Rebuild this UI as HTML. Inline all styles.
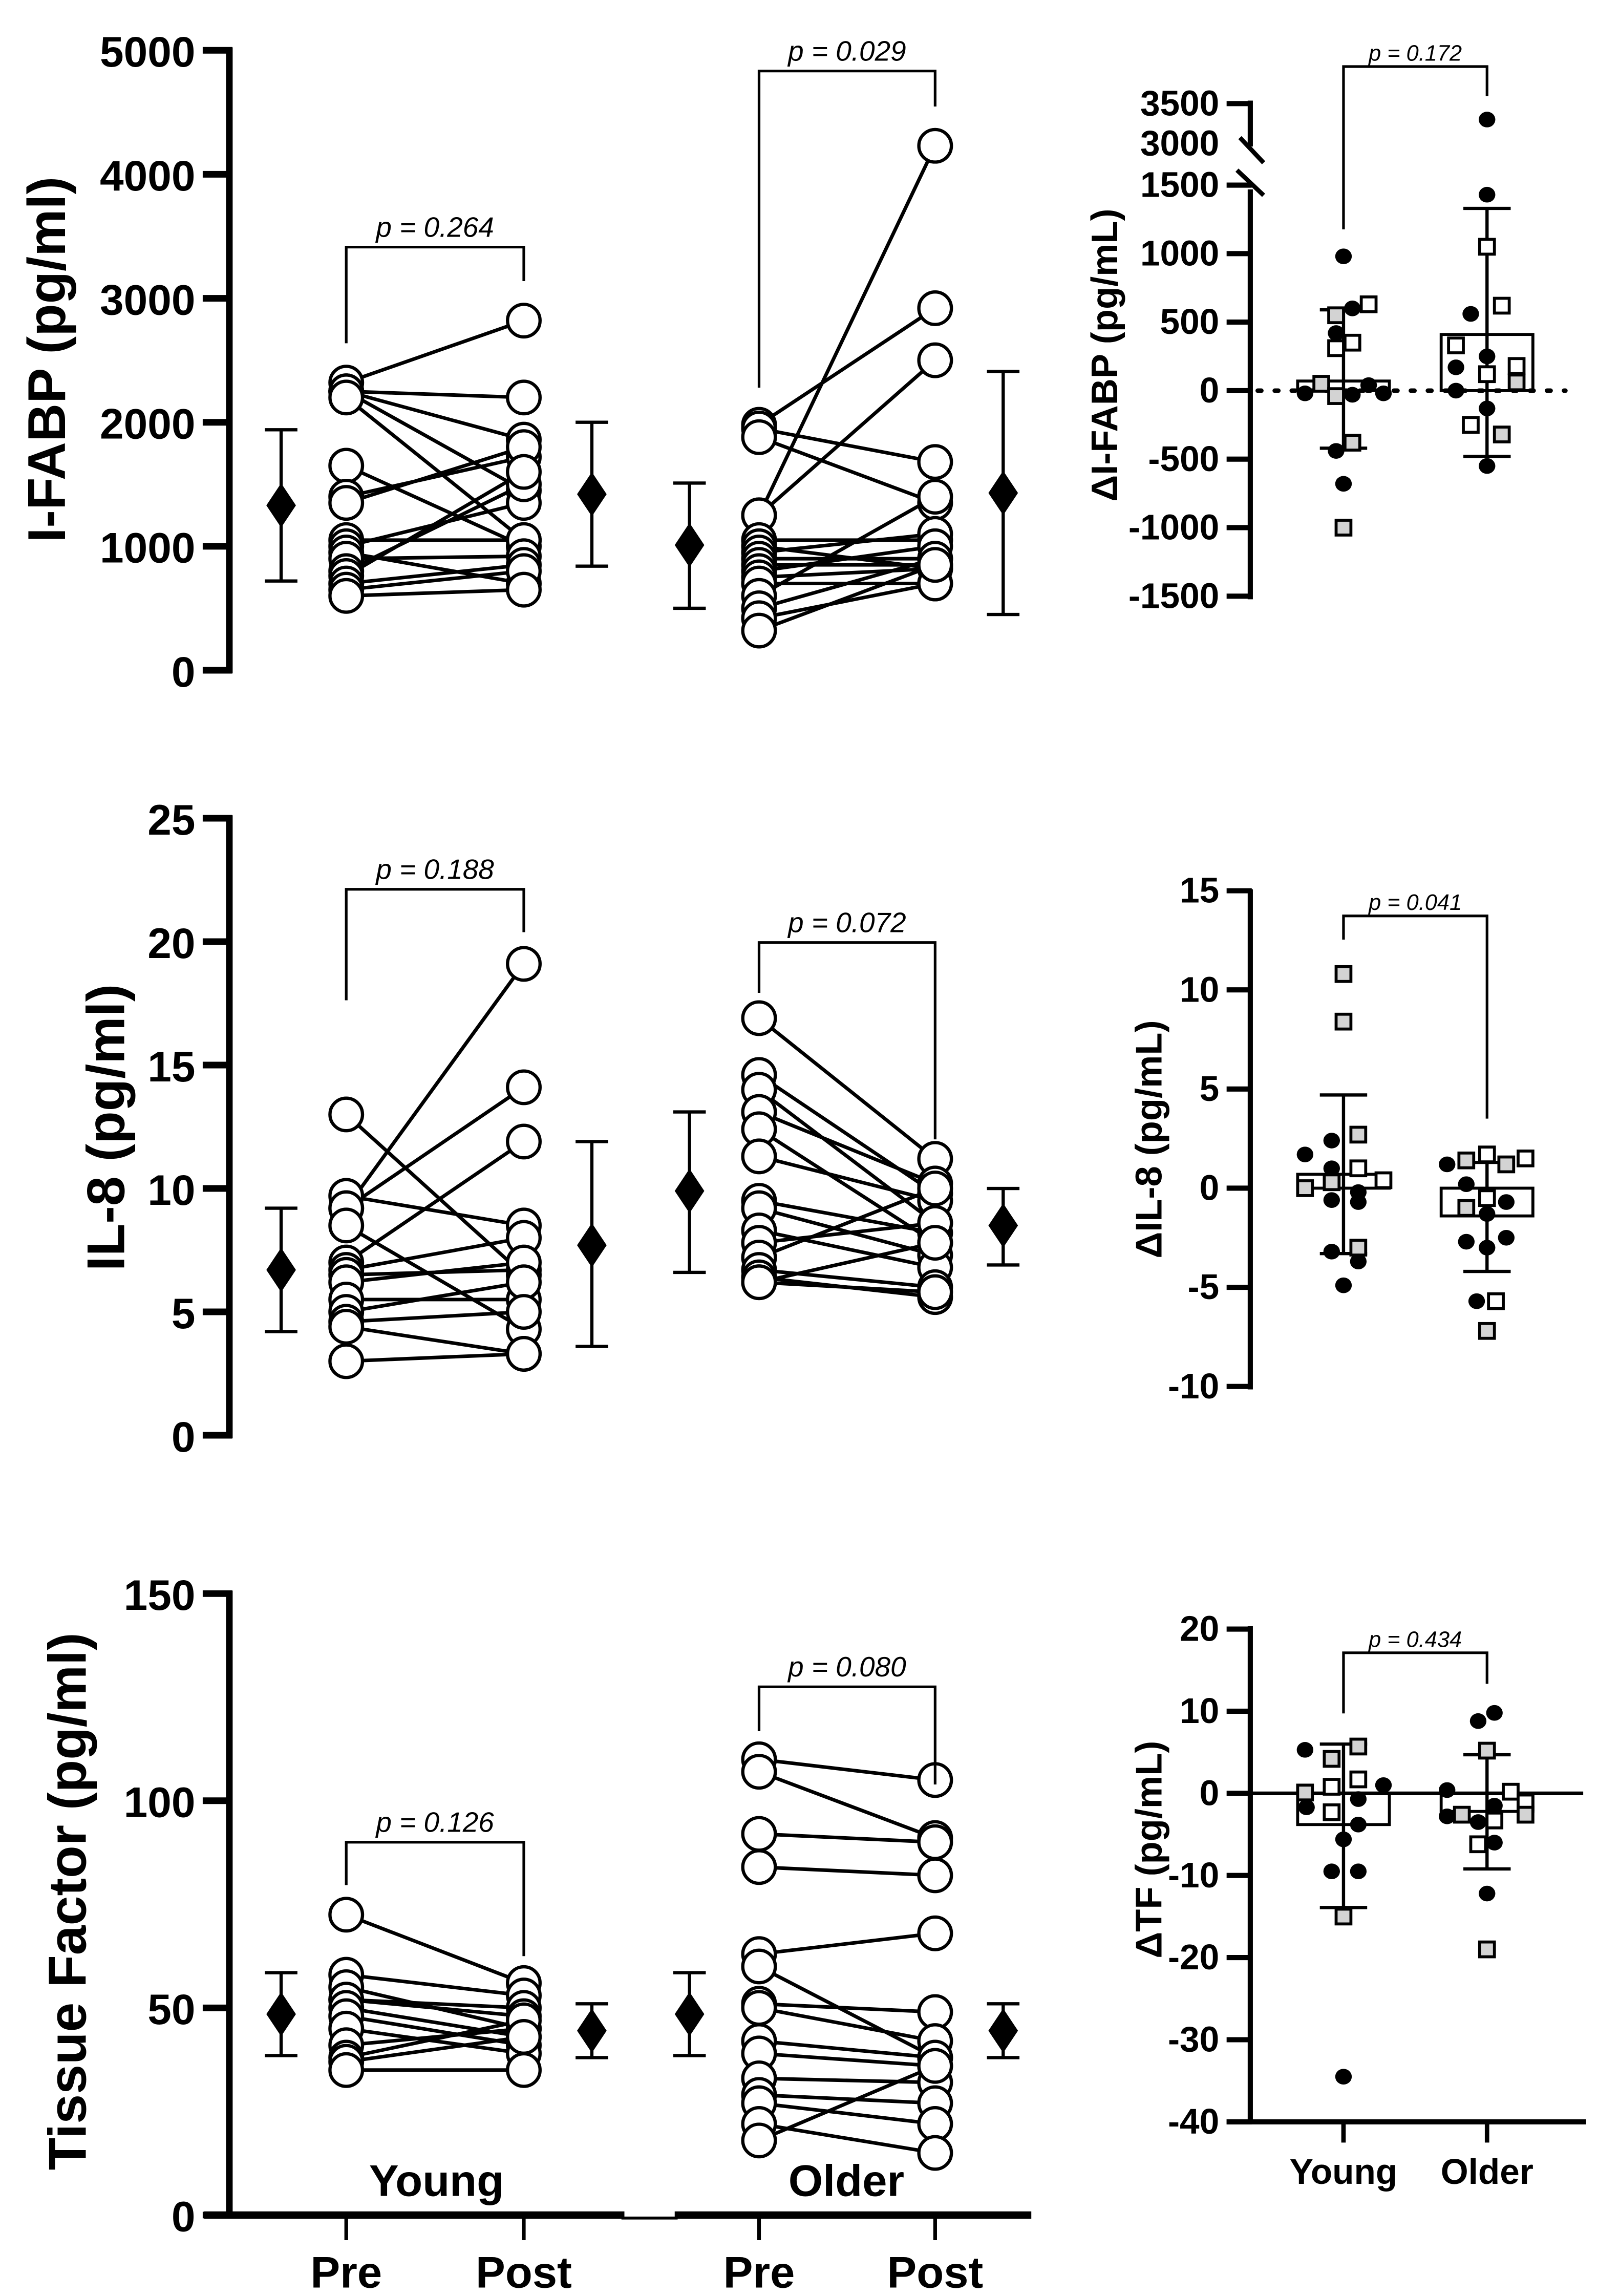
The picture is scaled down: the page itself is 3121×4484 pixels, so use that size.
<!DOCTYPE html>
<html><head><meta charset="utf-8">
<style>
html,body{margin:0;padding:0;background:#fff;}
svg{display:block;}
text{font-family:"Liberation Sans",Arial,sans-serif;fill:#000;}
.tick{font-weight:bold;font-size:29px;}
.rtick{font-weight:bold;font-size:24px;}
.pl{font-style:italic;font-size:19px;}
.rpl{font-style:italic;font-size:15px;}
</style></head>
<body>
<svg id="fig" width="3121" height="4484" viewBox="0 0 1080 1551.7" preserveAspectRatio="none" xmlns="http://www.w3.org/2000/svg"></svg>
<script>
// ---------- Panel A: I-FABP ----------
const fabpYoungPre  = [2320,2250,2250,2250,2200,1650,1400,1350,1050,1000,950,900,800,760,700,650,600];
const fabpYoungPost = [2820,2200,1860,1450,1050,1000,1720,1800,1050,1350,700,920,1500,1600,850,800,650];
const fabpOlderPre  = [1980,1950,1880,1250,1250,1050,1000,950,900,850,800,750,700,600,500,420,320];
const fabpOlderPost = [2920,1680,1350,4230,2500,1050,820,1100,900,850,1000,820,700,1400,900,700,850];
const fabpMeans = [1330,1420,1010,1430];
const fabpLo    = [720,840,500,450];
const fabpHi    = [1940,2000,1510,2410];
const fabpTicks = [0,1000,2000,3000,4000,5000];
// ---------- Panel B: IL-8 ----------
const il8YoungPre  = [13.0,9.7,9.2,9.2,8.5,7.0,6.7,6.5,6.2,5.5,5.0,4.6,4.4,3.0];
const il8YoungPost = [6.5,8.5,14.1,19.1,4.3,11.9,8.0,6.7,7.0,5.5,6.2,5.0,3.3,3.3];
const il8OlderPre  = [16.9,14.6,14.0,13.1,12.4,11.3,9.5,9.2,8.3,7.8,7.2,6.7,6.4,6.2,6.2];
const il8OlderPost = [11.2,9.8,8.6,10.2,7.8,9.5,8.2,7.3,6.8,8.6,10.0,6.0,5.6,7.8,5.8];
const il8Means = [6.7,7.7,9.9,8.5];
const il8Lo    = [4.2,3.6,6.6,6.9];
const il8Hi    = [9.2,11.9,13.1,10.0];
const il8Ticks = [0,5,10,15,20,25];
// ---------- Panel C: Tissue factor ----------
const tfYoungPre  = [72.5,58,55,52,52,50,48,45,41,38,37,35];
const tfYoungPost = [56,53,45,50,48,43,41,39,45,47,43,35];
const tfOlderPre  = [110,107,92,84,63,60,51,50,42,39,33,29,27,22,18];
const tfOlderPost = [105,91,90,82,68,38,49,42,38,36,32,27,22,15,36];
const tfMeans = [48.5,44.5,48.5,44.5];
const tfLo    = [38.5,38,38.5,38];
const tfHi    = [58.5,51,58.5,51];
const tfTicks = [0,50,100,150];
// ---------- Delta panels ----------
const dFabpYoung = [980,550,600,630,420,310,350,-20,50,-40,-30,40,-20,-380,-440,-680,-1000];
const dFabpYoungType = ['c','g','c','o','c','o','o','c','g','g','c','c','c','g','c','c','g'];
const dFabpYoungJit = [0,-5,6,17,-5,-5,6,-26,-15,-5,6,17,27,6,-5,0,0];
const dFabpOlder = [3300,1430,1050,620,560,330,250,170,120,180,60,0,-130,-250,-320,-550];
const dFabpOlderType = ['c','c','o','o','c','o','c','c','o','o','g','c','c','o','g','c'];
const dFabpOlderJit = [0,0,0,10,-11,-21,0,-21,0,20,20,-21,0,-11,10,0];
const dFabpStats = [70,-420,590, 410,-480,1330];
const dFabpTicks = [-1500,-1000,-500,0,500,1000,1500];

const dIl8Young = [10.8,8.4,2.7,2.4,1.7,1.0,1.0,0.3,0.4,0.0,-0.2,-0.6,-0.7,-3.2,-3.0,-3.7,-4.9];
const dIl8YoungType = ['g','g','g','c','c','c','o','g','o','g','c','c','c','c','g','c','c'];
const dIl8YoungJit = [0,0,10,-8,-26,-8,10,-8,27,-26,10,-8,10,-8,10,10,0];
const dIl8Older = [1.2,1.4,1.7,1.2,1.5,0.2,-0.5,-1.0,-0.7,-1.3,-2.5,-2.7,-3.0,-5.7,-5.7,-7.2];
const dIl8OlderType = ['c','g','o','g','o','c','o','g','c','c','c','c','c','c','o','g'];
const dIl8OlderJit = [-27,-14,0,13,26,-14,0,-14,13,0,13,-14,0,-7,6,0];
const dIl8Stats = [0.7,-3.3,4.7, -1.4,-4.2,1.3];
const dIl8Ticks = [-10,-5,0,5,10,15];

const dTfYoung = [5.3,4.2,5.7,1.7,0.8,0.1,1.0,-0.7,-1.7,-2.3,-3.8,-5.6,-9.5,-9.5,-15,-34.5];
const dTfYoungType = ['c','g','g','o','o','g','c','c','c','o','c','c','c','c','g','c'];
const dTfYoungJit = [-26,-8,10,10,-8,-26,27,10,-25,-8,10,0,-8,10,0,0];
const dTfOlder = [9.8,8.8,5.2,0.4,0.2,-1.5,-1.1,-2.8,-2.6,-2.6,-3.3,-3.5,-6.0,-6.2,-12.2,-19];
const dTfOlderType = ['c','c','g','c','o','c','o','c','g','g','o','c','c','o','c','g'];
const dTfOlderJit = [5,-6,0,-27,16,5,26,-27,-17,26,5,-6,5,-6,0,0];
const dTfStats = [-3.8,-13.9,6.0, -2.2,-9.2,4.7];
const dTfTicks = [-40,-30,-20,-10,0,10,20];

const NS = "http://www.w3.org/2000/svg";
const svg = document.getElementById('fig');
function el(tag, attrs, parent, txt){
  const e = document.createElementNS(NS, tag);
  for (const k in attrs) e.setAttribute(k, attrs[k]);
  if (txt !== undefined) e.textContent = txt;
  (parent || svg).appendChild(e);
  return e;
}
function lin(d0,d1,r0,r1){return v => r0 + (v-d0)/(d1-d0)*(r1-r0);}

const XP = [234,354,513,632], XM = [190,400,466,678];
function pairedPanel(cfg){
  const g = el('g',{});
  
  
  const y = lin(0, cfg.max, cfg.y0, cfg.y1);
  const ax = el('line',{x1:155,y1:cfg.y1-2,x2:155,y2:cfg.y0+2,stroke:'#000','stroke-width':4.5},g);
  
  
  cfg.ticks.forEach(t=>{
    el('line',{x1:137,y1:y(t),x2:157,y2:y(t),stroke:'#000','stroke-width':4.5},g);
    const tl = el('text',{x:132,y:y(t)+11,'text-anchor':'end',class:'tick'},g,String(t));
    
    
  });
  const tt = el('text',{transform:`translate(${cfg.tx},${cfg.tcy}) rotate(-90)`,'text-anchor':'middle','font-size':cfg.tfs||36,'font-weight':'bold'},g,cfg.title);
  
  
  const sets = [[cfg.yp,cfg.yq,0],[cfg.op,cfg.oq,2]];
  sets.forEach(([pre,post,k])=>{
    pre.forEach((v,i)=>{
      const ln = el('line',{x1:XP[k],y1:y(v),x2:XP[k+1],y2:y(post[i]),stroke:'#000','stroke-width':2.4},g);
      
      
    });
  });
  sets.forEach(([pre,post,k])=>{
    pre.forEach((v,i)=>{
      const c1 = el('ellipse',{cx:XP[k],cy:y(v),rx:11,ry:11,fill:'#fff',stroke:'#000','stroke-width':2.2},g);
      
      
      const c2 = el('ellipse',{cx:XP[k+1],cy:y(post[i]),rx:11,ry:11,fill:'#fff',stroke:'#000','stroke-width':2.2},g);
      
      
    });
  });
  cfg.means.forEach((m,i)=>{
    const x = XM[i];
    el('line',{x1:x,y1:y(cfg.lo[i]),x2:x,y2:y(cfg.hi[i]),stroke:'#000','stroke-width':2.2},g);
    el('line',{x1:x-11,y1:y(cfg.lo[i]),x2:x+11,y2:y(cfg.lo[i]),stroke:'#000','stroke-width':2.2},g);
    el('line',{x1:x-11,y1:y(cfg.hi[i]),x2:x+11,y2:y(cfg.hi[i]),stroke:'#000','stroke-width':2.2},g);
    const d = el('polygon',{points:`${x},${y(m)-15} ${x+10},${y(m)} ${x},${y(m)+15} ${x-10},${y(m)}`,fill:'#000'},g);
    
    
  });
  cfg.br.forEach(b=>{
    el('polyline',{points:`${b.x1},${b.l} ${b.x1},${b.t} ${b.x2},${b.t} ${b.x2},${b.r}`,fill:'none',stroke:'#000','stroke-width':1.8},g);
    const p = el('text',{x:(b.x1+b.x2)/2,y:b.t-7,'text-anchor':'middle',class:'pl'},g,b.txt);
    
    
  });
}
pairedPanel({name:'ifabp-panel',max:5000,y0:453,y1:34,ticks:fabpTicks,title:'I-FABP (pg/ml)',tx:44,tcy:243,
  yp:fabpYoungPre,yq:fabpYoungPost,op:fabpOlderPre,oq:fabpOlderPost,means:fabpMeans,lo:fabpLo,hi:fabpHi,
  br:[{x1:234,x2:354,t:167,l:232,r:190,txt:'p = 0.264'},{x1:513,x2:632,t:48,l:262,r:72,txt:'p = 0.029'}]});
pairedPanel({name:'il8-panel',max:25,y0:970,y1:553,ticks:il8Ticks,title:'IL-8 (pg/ml)',tx:84,tcy:762,
  yp:il8YoungPre,yq:il8YoungPost,op:il8OlderPre,oq:il8OlderPost,means:il8Means,lo:il8Lo,hi:il8Hi,
  br:[{x1:234,x2:354,t:601,l:676,r:630,txt:'p = 0.188'},{x1:513,x2:632,t:637,l:671,r:770,txt:'p = 0.072'}]});
pairedPanel({name:'tf-panel',max:150,y0:1497,y1:1077,ticks:tfTicks,title:'Tissue Factor (pg/ml)',tx:58,tcy:1285,
  yp:tfYoungPre,yq:tfYoungPost,op:tfOlderPre,oq:tfOlderPost,means:tfMeans,lo:tfLo,hi:tfHi,
  br:[{x1:234,x2:354,t:1245,l:1274,r:1322,txt:'p = 0.126'},{x1:513,x2:632,t:1140,l:1170,r:1206,txt:'p = 0.080'}]});

const xa = el('g',{});


el('line',{x1:138,y1:1497,x2:422,y2:1497,stroke:'#000','stroke-width':5},xa);
el('line',{x1:420,y1:1499,x2:458,y2:1499,stroke:'#000','stroke-width':2},xa);
el('line',{x1:456,y1:1497,x2:697,y2:1497,stroke:'#000','stroke-width':5},xa);
const xl = ['Pre','Post','Pre','Post'];
XP.forEach((x,i)=>{
  el('line',{x1:x,y1:1497,x2:x,y2:1514,stroke:'#000','stroke-width':2.5},xa);
  const t = el('text',{x:x,y:1546,'text-anchor':'middle','font-size':30,'font-weight':'bold'},xa,xl[i]);
  
  
});
const gy = el('text',{x:295,y:1484,'text-anchor':'middle','font-size':30,'font-weight':'bold'},xa,'Young');


const go = el('text',{x:572,y:1484,'text-anchor':'middle','font-size':30,'font-weight':'bold'},xa,'Older');



const GX = [908,1005];
function deltaPanel(cfg){
  const g = el('g',{});
  
  
  const y = cfg.y;
  const ax = el('line',{x1:845,y1:cfg.axTop,x2:845,y2:cfg.axBot,stroke:'#000','stroke-width':3.5},g);
  
  
  cfg.ticks.forEach(t=>{
    el('line',{x1:829,y1:y(t),x2:846,y2:y(t),stroke:'#000','stroke-width':3.5},g);
    const tl = el('text',{x:824,y:y(t)+8,'text-anchor':'end',class:'rtick'},g,String(t));
    
    
  });
  const tt = el('text',{transform:`translate(${cfg.tx},${cfg.tcy}) rotate(-90)`,'text-anchor':'middle','font-size':25,'font-weight':'bold'},g,cfg.title);
  
  
  if (cfg.zeroDotted){
    el('line',{x1:850,y1:y(0),x2:1058,y2:y(0),stroke:'#000','stroke-width':3,'stroke-dasharray':'2.5 9','stroke-linecap':'round'},g);
  } else if (cfg.zeroSolid){
    el('line',{x1:845,y1:y(0),x2:1070,y2:y(0),stroke:'#000','stroke-width':2.5},g);
  }
  [0,1].forEach(k=>{
    const m = cfg.stats[k*3], lo = cfg.stats[k*3+1], hi = cfg.stats[k*3+2];
    const x = GX[k];
    const bar = el('rect',{x:x-31,y:Math.min(y(0),y(m)),width:62,height:Math.abs(y(m)-y(0)),fill:'none',stroke:'#000','stroke-width':2},g);
    
    
    el('line',{x1:x,y1:y(lo),x2:x,y2:y(hi),stroke:'#000','stroke-width':2.2},g);
    el('line',{x1:x-16,y1:y(lo),x2:x+16,y2:y(lo),stroke:'#000','stroke-width':2.2},g);
    el('line',{x1:x-16,y1:y(hi),x2:x+16,y2:y(hi),stroke:'#000','stroke-width':2.2},g);
  });
  [[cfg.yv,cfg.yt,cfg.yj,0],[cfg.ov,cfg.ot,cfg.oj,1]].forEach(([vals,types,jit,k])=>{
    vals.forEach((v,i)=>{
      const x = GX[k]+jit[i], yy = y(v);
      let p;
      if (types[i]==='c') p = el('ellipse',{cx:x,cy:yy,rx:5.6,ry:5.3,fill:'#000'},g);
      else p = el('rect',{x:x-5,y:yy-5,width:10,height:10,fill:types[i]==='g'?'#d3d3d3':'#fff',stroke:'#000','stroke-width':2},g);
      
      
    });
  });
  const b = cfg.br;
  el('polyline',{points:`${GX[0]},${b.l} ${GX[0]},${b.t} ${GX[1]},${b.t} ${GX[1]},${b.r}`,fill:'none',stroke:'#000','stroke-width':1.8},g);
  const p = el('text',{x:(GX[0]+GX[1])/2,y:b.t-4,'text-anchor':'middle',class:'rpl'},g,b.txt);
  
  
}
const yLow = lin(0,500,264,217.7);
function yFabp(v){ return v<=1500 ? yLow(v) : 97 - (v-3000)/500*27; }
deltaPanel({name:'delta-ifabp-panel',y:yFabp,axTop:128,axBot:405,ticks:dFabpTicks,title:'ΔI-FABP (pg/mL)',tx:755,tcy:240,zeroDotted:true,
  stats:dFabpStats,yv:dFabpYoung,yt:dFabpYoungType,yj:dFabpYoungJit,ov:dFabpOlder,ot:dFabpOlderType,oj:dFabpOlderJit,
  br:{t:45,l:155,r:65,txt:'p = 0.172'}});
el('line',{x1:845,y1:yFabp(3000)+2,x2:845,y2:68,stroke:'#000','stroke-width':3.5});
el('line',{x1:829,y1:70,x2:846,y2:70,stroke:'#000','stroke-width':3.5});
el('text',{x:824,y:78,'text-anchor':'end',class:'rtick'},svg,'3500');
el('text',{x:824,y:105,'text-anchor':'end',class:'rtick'},svg,'3000');
el('line',{x1:838,y1:93,x2:854,y2:110,stroke:'#000','stroke-width':3});
el('line',{x1:836,y1:115,x2:854,y2:132,stroke:'#000','stroke-width':3});

deltaPanel({name:'delta-il8-panel',y:lin(0,5,803,736),axTop:601,axBot:939,ticks:dIl8Ticks,title:'ΔIL-8 (pg/mL)',tx:785,tcy:770,
  stats:dIl8Stats,yv:dIl8Young,yt:dIl8YoungType,yj:dIl8YoungJit,ov:dIl8Older,ot:dIl8OlderType,oj:dIl8OlderJit,
  br:{t:619,l:635,r:756,txt:'p = 0.041'}});
deltaPanel({name:'delta-tf-panel',y:lin(0,10,1212,1156.5),axTop:1099,axBot:1435,ticks:dTfTicks,title:'ΔTF (pg/mL)',tx:785,tcy:1250,zeroSolid:true,
  stats:dTfStats,yv:dTfYoung,yt:dTfYoungType,yj:dTfYoungJit,ov:dTfOlder,ot:dTfOlderType,oj:dTfOlderJit,
  br:{t:1117,l:1158,r:1138,txt:'p = 0.434'}});
const rx = el('g',{});


el('line',{x1:829,y1:1434,x2:1072,y2:1434,stroke:'#000','stroke-width':3.5},rx);
['Young','Older'].forEach((s,i)=>{
  el('line',{x1:GX[i],y1:1434,x2:GX[i],y2:1448,stroke:'#000','stroke-width':3},rx);
  const t = el('text',{x:GX[i],y:1476,'text-anchor':'middle','font-size':24,'font-weight':'bold'},rx,s);
  
  
});
</script>
</body></html>
